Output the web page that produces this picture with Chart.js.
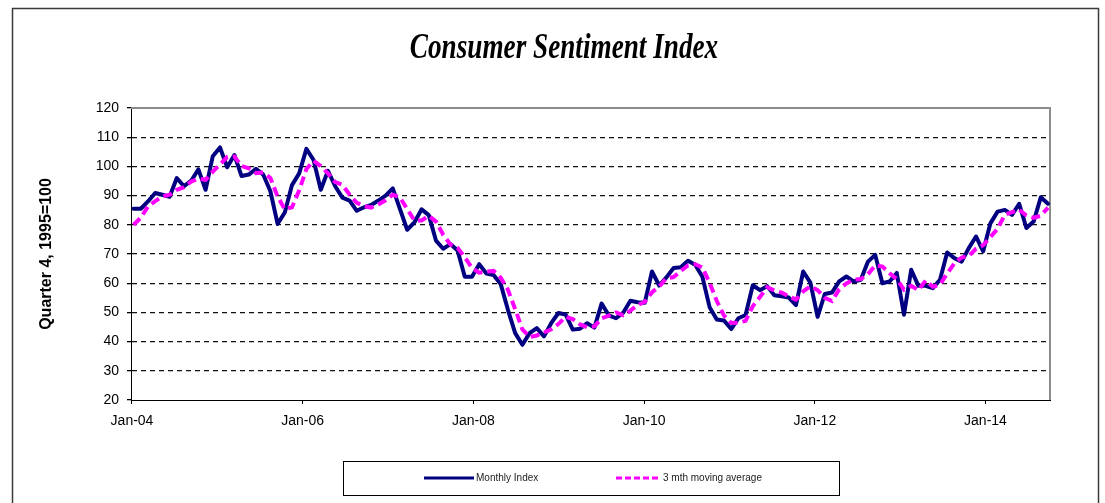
<!DOCTYPE html>
<html>
<head>
<meta charset="utf-8">
<script src="https://cdn.jsdelivr.net/npm/chart.js@4.4.1/dist/chart.umd.min.js"></script>
<style>
  html, body { margin: 0; padding: 0; background: #ffffff; }
  #wrap { width: 1105px; height: 503px; }
</style>
</head>
<body>
<div id="wrap"><canvas id="c" width="1105" height="503"></canvas></div>
<script>
// ---- Data, monthly from Jan-04 ----
const titleText = 'Consumer Sentiment Index';
const yAxisTitle = 'Quarter 4, 1995=100';
const seriesNames = ['Monthly Index', '3 mth moving average'];

const tickMonths = [0, 24, 48, 72, 96, 120];
const tickLabels = ['Jan-04', 'Jan-06', 'Jan-08', 'Jan-10', 'Jan-12', 'Jan-14'];

const monthlyIndex = [
  85.5, 85.5, 88.0, 90.9, 90.3, 89.6, 96.0, 93.2, 95.1, 99.0, 92.0, 103.5,   // 2004
  106.5, 99.7, 103.9, 96.7, 97.2, 99.2, 97.2, 91.5, 80.3, 84.2, 93.6, 97.6,  // 2005
  106.0, 102.2, 92.0, 98.5, 93.2, 89.3, 88.3, 84.8, 86.0, 86.8, 88.3, 90.0,  // 2006
  92.5, 85.4, 78.3, 80.8, 85.3, 83.3, 74.6, 71.8, 73.4, 71.2, 62.2, 62.2,    // 2007
  66.5, 63.3, 62.8, 59.6, 50.8, 42.9, 38.9, 42.9, 44.6, 41.8, 46.3, 49.8,    // 2008
  49.3, 44.1, 44.4, 46.3, 44.8, 53.0, 49.0, 48.0, 49.9, 54.0, 53.5, 53.3,    // 2009
  64.0, 59.2, 62.0, 65.2, 65.5, 67.7, 66.3, 62.2, 51.8, 47.6, 47.2, 44.3,    // 2010
  48.0, 49.1, 59.3, 57.6, 59.0, 55.9, 55.5, 55.1, 52.5, 64.0, 60.2, 48.5,    // 2011
  56.3, 56.8, 60.6, 62.3, 60.6, 61.2, 67.4, 69.7, 60.0, 60.6, 63.5, 49.2,    // 2012
  64.6, 59.1, 59.1, 58.3, 61.2, 70.5, 68.6, 67.4, 72.0, 76.0, 70.9, 80.5,    // 2013
  84.5, 85.1, 83.4, 87.2, 78.9, 81.1, 89.4, 87.2                             // 2014
];

const movingAverage = [
  80.0, 82.4, 86.3, 88.1, 89.7, 90.3, 92.0, 92.9, 94.8, 95.8, 95.4, 98.2,
  100.7, 103.2, 103.4, 100.1, 99.3, 97.7, 97.9, 96.0, 89.7, 85.3, 86.0, 91.8,
  99.1, 101.9, 100.1, 97.6, 94.6, 93.7, 90.3, 87.5, 86.4, 85.9, 87.0, 88.4,
  90.3, 89.3, 85.4, 81.5, 81.5, 83.1, 81.1, 76.6, 73.3, 72.1, 68.9, 65.2,
  63.6, 64.0, 64.2, 61.9, 57.7, 51.1, 44.2, 41.6, 42.1, 43.1, 44.2, 46.0,
  48.5, 47.7, 45.9, 44.9, 45.2, 48.0, 48.9, 50.0, 49.0, 50.6, 52.5, 53.6,
  56.9, 58.8, 61.7, 62.1, 64.2, 66.1, 66.5, 65.4, 60.1, 53.9, 48.9, 46.4,
  46.5, 47.1, 52.1, 55.3, 58.6, 57.5, 56.8, 55.5, 54.4, 57.2, 58.9, 57.6,
  55.0, 53.9, 57.9, 59.9, 61.2, 61.4, 63.1, 66.1, 65.7, 63.4, 61.4, 57.8,
  59.1, 57.6, 60.9, 58.8, 59.5, 63.3, 66.8, 68.8, 69.3, 71.8, 73.0, 75.8,
  78.6, 83.4, 84.3, 85.2, 83.2, 82.4, 83.1, 85.9
];

// ---- Styles ----
const NAVY = '#000080';
const PINK = '#FF00FF';

const framePlugin = {
  id: 'frame',
  beforeDraw(chart) {
    const c = chart.ctx;
    c.save();
    c.fillStyle = '#ffffff';
    c.fillRect(0, 0, chart.width, chart.height);
    c.strokeStyle = '#3a3a3a';
    c.lineWidth = 1.5;
    c.strokeRect(12.5, 8.5, 1086, 520);
    c.restore();
  },
  beforeDatasetsDraw(chart) {
    const a = chart.chartArea, c = chart.ctx;
    c.save();
    c.strokeStyle = '#8c8c8c';
    c.lineWidth = 2;
    c.beginPath();
    c.moveTo(a.left, a.top);
    c.lineTo(a.right, a.top);
    c.lineTo(a.right, a.bottom);
    c.stroke();
    c.restore();
  },
  afterDraw(chart) {
    const c = chart.ctx;
    // title (condensed bold italic serif)
    c.save();
    c.translate(564, 49);
    c.scale(0.8, 1.05);
    c.font = 'italic bold 34px "Liberation Serif", "Times New Roman", serif';
    c.fillStyle = '#000';
    c.textAlign = 'center';
    c.textBaseline = 'middle';
    c.fillText(titleText, 0, 0);
    c.restore();

    // legend box
    c.save();
    c.strokeStyle = '#000';
    c.lineWidth = 1;
    c.strokeRect(343.5, 461.5, 496, 34);
    const ds = chart.data.datasets;
    const yL = 478;
    c.lineWidth = 3;
    c.strokeStyle = ds[0].borderColor;
    c.beginPath(); c.moveTo(424, yL); c.lineTo(474, yL); c.stroke();
    c.strokeStyle = ds[1].borderColor;
    c.setLineDash([6, 3]);
    c.beginPath(); c.moveTo(616, yL); c.lineTo(661, yL); c.stroke();
    c.setLineDash([]);
    c.font = '10px "Liberation Sans", Arial, sans-serif';
    c.fillStyle = '#222';
    c.textAlign = 'left';
    c.textBaseline = 'middle';
    c.fillText(ds[0].label, 476, yL);
    c.fillText(ds[1].label, 663, yL);
    c.restore();
  }
};

const ctx = document.getElementById('c').getContext('2d');
new Chart(ctx, {
  type: 'line',
  data: {
    datasets: [
      {
        label: seriesNames[0],
        data: monthlyIndex.map((v, i) => ({ x: i, y: v })),
        borderColor: NAVY,
        borderWidth: 4,
        pointRadius: 0,
        tension: 0,
        borderJoinStyle: 'round',
        borderCapStyle: 'round',
        xAxisID: 'x',
        order: 2
      },
      {
        label: seriesNames[1],
        data: movingAverage.map((v, i) => ({ x: i, y: v })),
        borderColor: PINK,
        borderWidth: 4,
        borderDash: [9, 5],
        pointRadius: 0,
        tension: 0,
        xAxisID: 'x',
        order: 1
      }
    ]
  },
  options: {
    responsive: false,
    animation: false,
    events: [],
    layout: { padding: { left: 35, top: 108, right: 55, bottom: 73 } },
    plugins: {
      legend: { display: false },
      tooltip: { enabled: false },
      title: { display: false }
    },
    scales: {
      x: {
        type: 'linear',
        display: false,
        min: -0.36,
        max: 127.28
      },
      xl: {
        type: 'linear',
        position: 'bottom',
        min: -0.14,
        max: 129.07,
        afterBuildTicks: (s) => { s.ticks = tickMonths.map(v => ({ value: v })); },
        afterFit: (s) => { s.height = 30; },
        ticks: {
          autoSkip: false,
          maxRotation: 0,
          padding: 9,
          color: '#000',
          font: { family: '"Liberation Sans", Arial, sans-serif', size: 14 },
          callback: (v, i) => tickLabels[i]
        },
        grid: { display: true, drawOnChartArea: false, tickLength: 4, tickColor: '#000', color: '#000' },
        border: { display: true, color: '#000', width: 1 }
      },
      y: {
        min: 20,
        max: 120,
        afterFit: (s) => { s.width = 96; },
        ticks: {
          stepSize: 10,
          padding: 8,
          color: '#000',
          font: { family: '"Liberation Sans", Arial, sans-serif', size: 14 }
        },
        grid: {
          color: (c) => (c.tick && (c.tick.value === 20 || c.tick.value === 120)) ? 'rgba(0,0,0,0)' : '#111',
          lineWidth: 1.3,
          tickLength: 4,
          tickColor: '#000'
        },
        border: { display: true, color: '#000', width: 1, dash: [5, 4] },
        title: {
          display: true,
          text: yAxisTitle,
          color: '#000',
          padding: { top: 2, bottom: 0 },
          font: { family: '"Liberation Sans", Arial, sans-serif', size: 16, weight: 'bold' }
        }
      }
    }
  },
  plugins: [framePlugin]
});
</script>
</body>
</html>
